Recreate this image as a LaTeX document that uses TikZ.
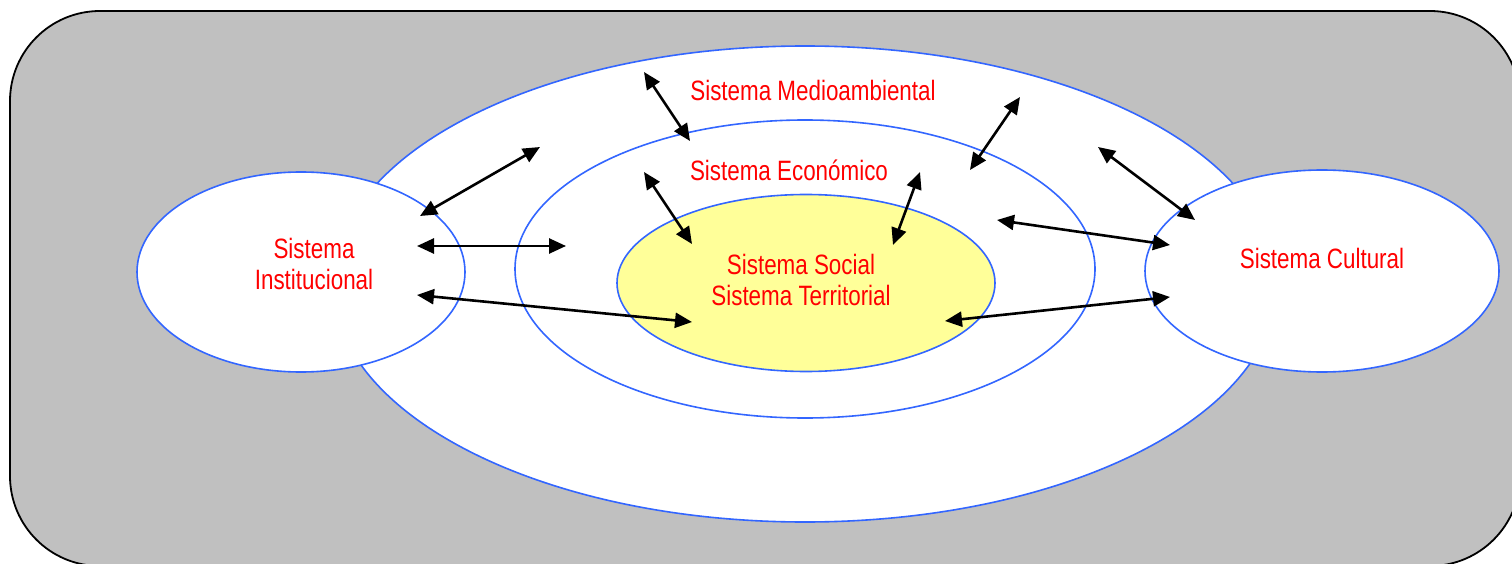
\documentclass[tikz,border=0pt]{standalone}
\usepackage{fontspec}
\setmainfont{Liberation Sans}[FakeStretch=0.8]
\usetikzlibrary{arrows.meta,shapes.geometric}
\definecolor{fondo}{HTML}{C0C0C0}
\definecolor{borde}{HTML}{3366FF}
\definecolor{amarillo}{HTML}{FFFF99}

\begin{document}
\begin{tikzpicture}[x=1pt,y=-1pt]
  \tikzset{
    sistema/.style={
      ellipse,
      draw=borde,
      line width=1.6pt,
      fill=white,
      inner sep=0pt
    },
    etiqueta/.style={
      text=red,
      font=\fontsize{28}{31.5}\selectfont,
      align=center,
      inner sep=0pt
    },
    flecha/.style={
      draw,
      line width=2.6pt,
      {Triangle[length=17pt,width=15pt]}-{Triangle[length=17pt,width=15pt]}
    }
  }

  \useasboundingbox (0,0) rectangle (1512,564);
  \draw[fill=fondo,line width=1.8pt,rounded corners=90pt] (10,11) rectangle (1520,566);

  \node[sistema,minimum width=944pt,minimum height=476pt] (medio) at (805,284) {};
  \node[sistema,minimum width=580pt,minimum height=298pt] (econ) at (805,269) {};
  \node[sistema,fill=amarillo,minimum width=378pt,minimum height=177pt] (social) at (806,283) {};
  \node[sistema,minimum width=328pt,minimum height=200pt] (inst) at (301,272) {};
  \node[sistema,minimum width=354pt,minimum height=202pt] (cult) at (1322,271) {};

  \node[etiqueta] (tmedio) at (813,90) {Sistema Medioambiental};
  \node[etiqueta] (tecon) at (789,170) {Sistema Económico};
  \node[etiqueta] (tsocial) at (801,280) {Sistema Social\\Sistema Territorial};
  \node[etiqueta] (tinst) at (314,264) {Sistema\\Institucional};
  \node[etiqueta] (tcult) at (1322,258) {Sistema Cultural};

  \coordinate (a1) at (420,216);  \coordinate (b1) at (540,147);
  \coordinate (a2) at (417,246);  \coordinate (b2) at (566,246);
  \coordinate (a3) at (417,295);  \coordinate (b3) at (692,322);
  \coordinate (a4) at (644,72);   \coordinate (b4) at (690,141);
  \coordinate (a5) at (644,172);  \coordinate (b5) at (692,244);
  \coordinate (a6) at (920,172);  \coordinate (b6) at (893,245);
  \coordinate (a7) at (1020,97);  \coordinate (b7) at (970,170);
  \coordinate (a8) at (1098,147); \coordinate (b8) at (1195,220);
  \coordinate (a9) at (997,220);  \coordinate (b9) at (1170,245);
  \coordinate (c10) at (945,321); \coordinate (d10) at (1170,297);

  \draw[flecha] (a1) -- (b1);
  \draw[flecha] (a2) -- (b2);
  \draw[flecha] (a3) -- (b3);
  \draw[flecha] (a4) -- (b4);
  \draw[flecha] (a5) -- (b5);
  \draw[flecha] (a6) -- (b6);
  \draw[flecha] (a7) -- (b7);
  \draw[flecha] (a8) -- (b8);
  \draw[flecha] (a9) -- (b9);
  \draw[flecha] (d10) -- (c10);

\end{tikzpicture}
\end{document}
